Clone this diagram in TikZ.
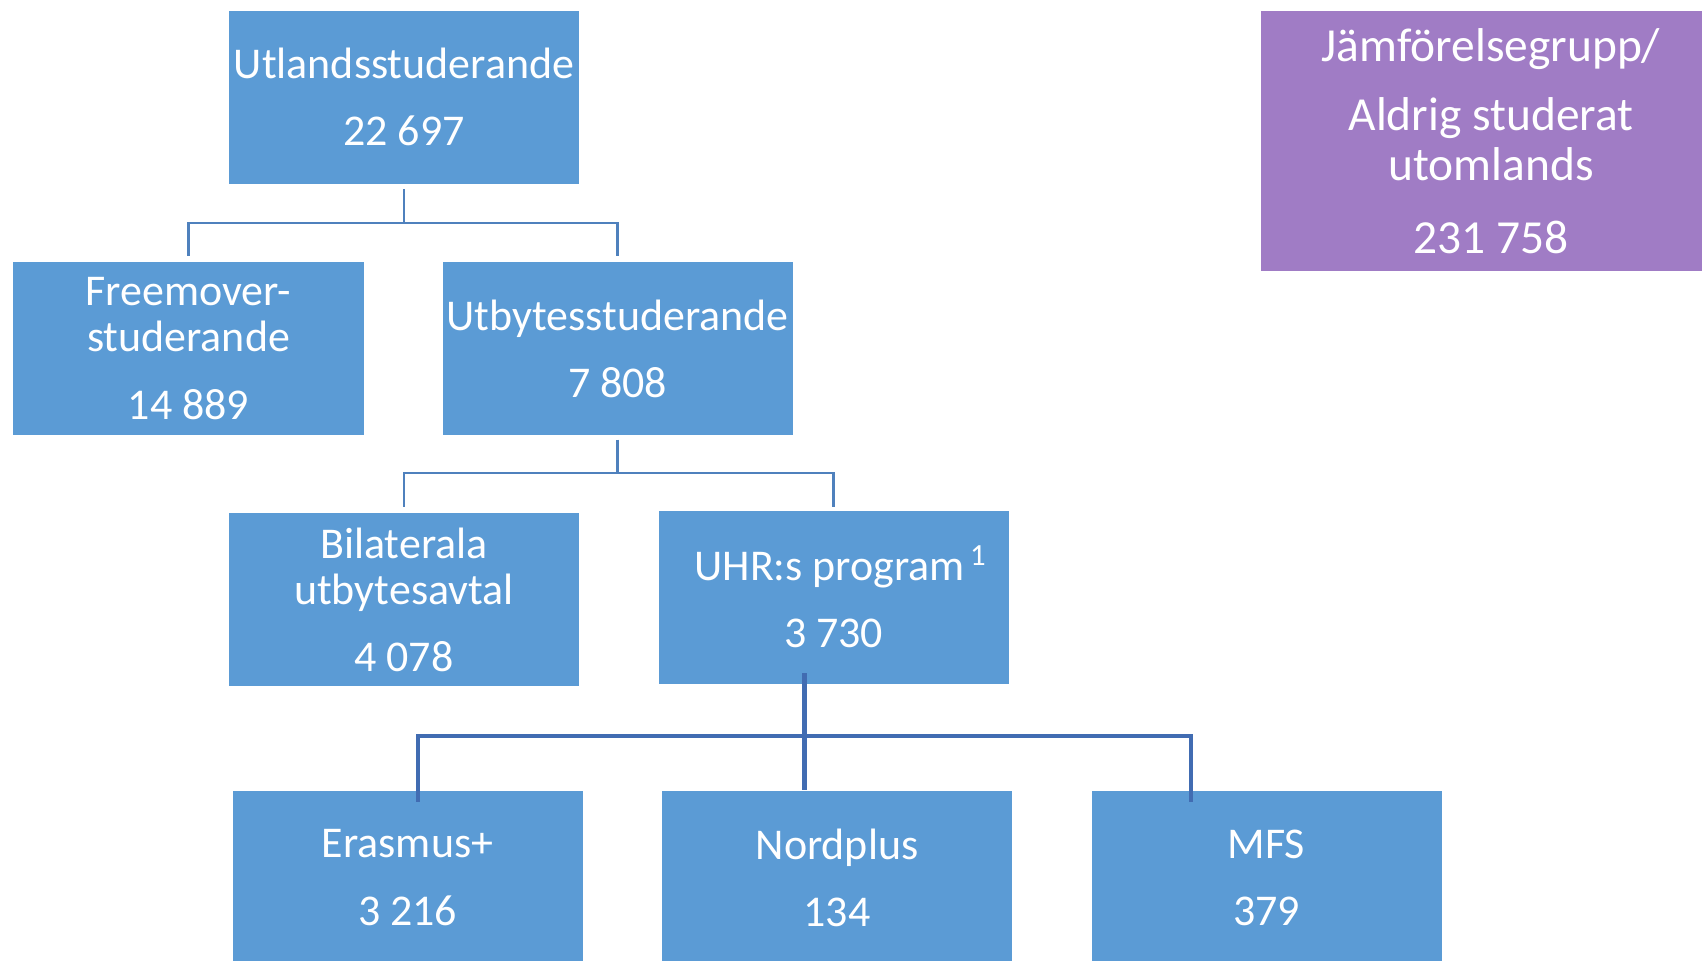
\documentclass[tikz,border=0pt]{standalone}
\usepackage{fontspec}
\setmainfont{Carlito}
\definecolor{boxblue}{RGB}{91,155,213}
\definecolor{boxpurple}{RGB}{160,124,197}
\definecolor{linkblue}{RGB}{79,129,189}
\definecolor{linkdark}{RGB}{65,108,178}

\begin{document}
\begin{tikzpicture}
        \tikzset{
            num/.style={rectangle,fill=boxblue,text=white,inner sep=0pt,minimum width=3.5cm,minimum height=1.73cm,align=center,font=\fontsize{12.5}{13.1}\selectfont},
            ref/.style={fill=boxpurple,minimum width=4.6cm,minimum height=2.6cm,font=\fontsize{13.5}{14.2}\selectfont},
            link/.style={draw=linkblue,line width=0.6pt},
            thicklink/.style={draw=linkdark,line width=1.2pt}
        }
        \useasboundingbox (0,0) rectangle (17.02,9.60);

        \node[num]     (U)  at (4.04,8.63)   {Utlandsstuderande\\[6pt]22 697};
        \node[num]     (F)  at (1.885,6.115) {Freemover-\\studerande\\[6pt]14 889};
        \node[num]     (X)  at (6.175,6.115) {Utbytesstuderande\\[6pt]7 808};
        \node[num]     (B)  at (4.04,3.605)  {Bilaterala\\utbytesavtal\\[6pt]4 078};
        \node[num]     (P)  at (8.335,3.63)  {\hspace{0.15cm}UHR:s program\kern1.5pt\textsuperscript{1}\\[6pt]3 730};
        \node[num]     (Er) at (4.075,0.825) {Erasmus+\\[6pt]3 216};
        \node[num]     (N)  at (8.37,0.825)  {Nordplus\\[6pt]134};
        \node[num]     (M)  at (12.665,0.825) {MFS\\[6pt]379};
        \node[num,ref] (J)  at (14.91,8.19)  {Jämförelsegrupp/\\[5.5pt]Aldrig studerat\\utomlands\\[6.5pt]231 758};

        \draw[link] ([yshift=-0.05cm]U.south) -- ++(0,-0.34) coordinate (u1) -| ([yshift=0.05cm]F.north);
        \draw[link] (u1) -| ([yshift=0.05cm]X.north);
        \draw[link] ([yshift=-0.04cm]X.south) -- ++(0,-0.33) coordinate (x1) -| ([yshift=0.05cm]B.north);
        \draw[link] (x1) -| ([yshift=0.03cm]P.north);

        \draw[thicklink] ([xshift=-0.29cm,yshift=0.11cm]P.south) -- ++(0,-0.63) coordinate (p1);
        \draw[thicklink] (p1) -| ([xshift=0.105cm,yshift=-0.12cm]Er.north);
        \draw[thicklink] (p1) -| ([xshift=-0.755cm,yshift=-0.12cm]M.north);
        \draw[thicklink] (p1) -- (p1 |- N.north);
\end{tikzpicture}
\end{document}
